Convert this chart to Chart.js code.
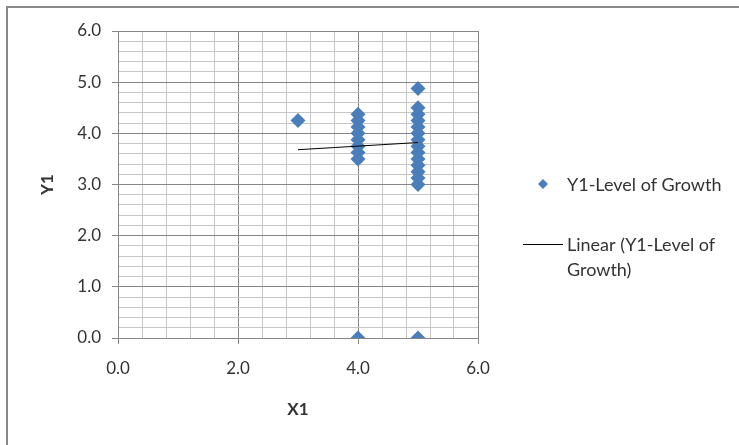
<!DOCTYPE html>
<html>
<head>
<meta charset="utf-8">
<script src="https://cdn.jsdelivr.net/npm/chart.js@4/dist/chart.umd.min.js"></script>
<style>
  html, body { margin: 0; padding: 0; background: #fff; }
  #wrap { width: 739px; height: 445px; }
</style>
</head>
<body>
<div id="wrap"><canvas id="chart" width="739" height="445"></canvas></div>
<script>
const xValues = [3, 4, 4, 4, 4, 4, 4, 4, 4, 4,
  5, 5, 5, 5, 5, 5, 5, 5, 5, 5, 5, 5, 5, 5, 5];
const yValues = [4.25, 0, 3.5, 3.625, 3.75, 3.875, 4.0, 4.125, 4.25, 4.375,
  0, 3.0, 3.125, 3.25, 3.375, 3.5, 3.625, 3.75, 3.875, 4.0, 4.125, 4.25, 4.375, 4.5, 4.875];

// linear trend line end points
const trendX = [3, 5];
const trendY = [3.68, 3.82];

const seriesName = "Y1-Level of Growth";
const trendName = ["Linear (Y1-Level of", "Growth)"];

const pointColor = "#4A7EBB";
const majorGrid = "#868686";
const minorGrid = "#c6c6c6";
const textColor = "#333333";
const fontFamily = "Lato, 'Noto Sans', sans-serif";

const isMult = (v, m) => Math.abs(v / m - Math.round(v / m)) < 1e-6;

// white background + frame
const framePlugin = {
  id: "frame",
  beforeDraw(chart) {
    const ctx = chart.ctx;
    ctx.save();
    ctx.fillStyle = "#fff";
    ctx.fillRect(0, 0, chart.width, chart.height);
    ctx.strokeStyle = "#888";
    ctx.lineWidth = 2;
    ctx.beginPath();
    ctx.moveTo(7, chart.height);
    ctx.lineTo(7, 7);
    ctx.lineTo(chart.width, 7);
    ctx.stroke();
    ctx.restore();
  }
};

// legend on the right, with the wrapped trend label
const legendPlugin = {
  id: "sideLegend",
  afterDraw(chart) {
    const ctx = chart.ctx;
    const ds0 = chart.data.datasets[1];
    const ds1 = chart.data.datasets[0];
    ctx.save();
    ctx.font = "18px " + fontFamily;
    ctx.textBaseline = "middle";

    // diamond
    ctx.fillStyle = ds0.backgroundColor;
    ctx.beginPath();
    ctx.moveTo(543, 179);
    ctx.lineTo(548, 184);
    ctx.lineTo(543, 189);
    ctx.lineTo(538, 184);
    ctx.closePath();
    ctx.fill();
    ctx.fillStyle = textColor;
    ctx.fillText(seriesName, 567, 185);

    // line
    ctx.strokeStyle = ds1.borderColor;
    ctx.lineWidth = 1;
    ctx.beginPath();
    ctx.moveTo(523, 244.5);
    ctx.lineTo(563, 244.5);
    ctx.stroke();
    ctx.fillText(trendName[0], 567, 245);
    ctx.fillText(trendName[1], 567, 270);
    ctx.restore();
  }
};

const points = xValues.map((x, i) => ({ x: x, y: yValues[i] }));
const trend = trendX.map((x, i) => ({ x: x, y: trendY[i] }));

new Chart(document.getElementById("chart"), {
  type: "scatter",
  data: {
    datasets: [
      {
        label: trendName.join(" "),
        data: trend,
        type: "line",
        showLine: true,
        borderColor: "#000",
        borderWidth: 1,
        pointRadius: 0,
        fill: false,
        order: 0
      },
      {
        label: seriesName,
        data: points,
        pointStyle: "rectRot",
        pointRadius: 7.5,
        pointHoverRadius: 7.5,
        backgroundColor: pointColor,
        borderColor: pointColor,
        borderWidth: 0,
        order: 1
      }
    ]
  },
  options: {
    responsive: false,
    animation: false,
    layout: { padding: { left: 0, top: 31, right: 261, bottom: 0 } },
    plugins: {
      legend: { display: false },
      tooltip: { enabled: false }
    },
    scales: {
      x: {
        type: "linear",
        min: 0,
        max: 6,
        afterFit: (scale) => { scale.height = 107; },
        border: { color: majorGrid, width: 1 },
        grid: {
          color: (c) => isMult(c.tick.value, 2) ? majorGrid : minorGrid,
          tickColor: (c) => isMult(c.tick.value, 2) ? majorGrid : "rgba(0,0,0,0)",
          tickLength: 6
        },
        ticks: {
          stepSize: 0.4,
          autoSkip: false,
          maxRotation: 0,
          padding: 14,
          color: textColor,
          font: { size: 17, family: fontFamily },
          callback: (v) => isMult(v, 2) ? v.toFixed(1) : ""
        },
        title: {
          display: true,
          text: "X1",
          color: textColor,
          font: { size: 17, weight: "bold", family: fontFamily },
          padding: { top: 0, bottom: 25 }
        }
      },
      y: {
        type: "linear",
        min: 0,
        max: 6,
        afterFit: (scale) => { scale.width = 118; },
        border: { color: majorGrid, width: 1 },
        grid: {
          color: (c) => isMult(c.tick.value, 1) ? majorGrid : minorGrid,
          tickColor: (c) => isMult(c.tick.value, 1) ? majorGrid : "rgba(0,0,0,0)",
          tickLength: 6
        },
        ticks: {
          stepSize: 0.2,
          autoSkip: false,
          padding: 11,
          color: textColor,
          font: { size: 17, family: fontFamily },
          callback: (v) => isMult(v, 1) ? v.toFixed(1) : ""
        },
        title: {
          display: true,
          text: "Y1",
          color: textColor,
          font: { size: 17, weight: "bold", family: fontFamily },
          padding: { top: 37, bottom: 0 }
        }
      }
    }
  },
  plugins: [framePlugin, legendPlugin]
});
</script>
</body>
</html>
